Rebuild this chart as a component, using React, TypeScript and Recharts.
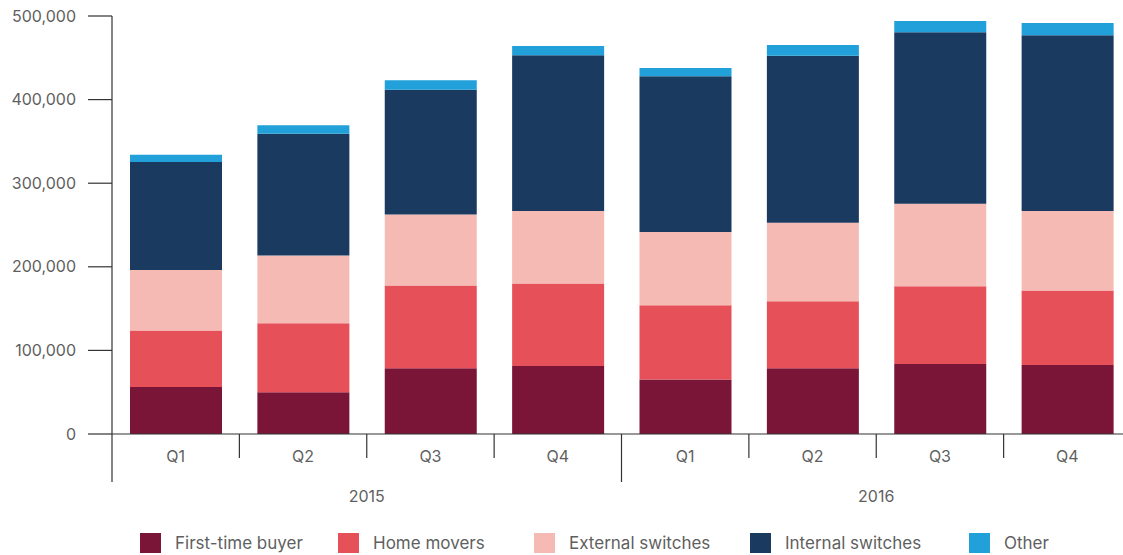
import React from 'react';
import { BarChart, Bar, XAxis, YAxis, Legend } from 'recharts';

const quarters = ['Q1', 'Q2', 'Q3', 'Q4', 'Q1', 'Q2', 'Q3', 'Q4'];
const years = ['2015', '2015', '2015', '2015', '2016', '2016', '2016', '2016'];
const firstTimeBuyer = [56300, 49900, 78700, 81400, 65100, 78700, 83800, 82600];
const homeMovers = [67500, 82600, 98900, 98600, 89000, 80200, 93000, 89100];
const externalSwitches = [72500, 81100, 85000, 86600, 87400, 93700, 98600, 94900];
const internalSwitches = [129000, 145600, 149200, 186400, 186400, 199900, 205100, 210400];
const other = [8700, 10000, 11300, 11100, 9900, 12800, 13600, 14700];
const yTicks = [0, 100000, 200000, 300000, 400000, 500000];

const seriesNames = ['First-time buyer', 'Home movers', 'External switches', 'Internal switches', 'Other'];
const seriesKeys = ['ftb', 'hm', 'ext', 'int', 'oth'];
const seriesColors = ['#7B1538', '#E65058', '#F5BAB4', '#1A3A60', '#21A0DA'];

const data = quarters.map((q, i) => ({
  key: `${years[i]} ${q}`,
  quarter: q,
  year: years[i],
  ftb: firstTimeBuyer[i],
  hm: homeMovers[i],
  ext: externalSwitches[i],
  int: internalSwitches[i],
  oth: other[i],
}));

const FONT = 'Inter, "DejaVu Sans", sans-serif';
const TEXT = '#5f5f5f';
const legendOffsets = [0, 198, 394, 610, 829];

const QuarterTick = (props: any) => {
  const { x, y, payload, index } = props;
  const half = payload && typeof payload.offset === 'number' && payload.offset > 0 ? payload.offset : 63.65;
  const left = x - half;
  const isYearStart = index % 4 === 0;
  const showYear = index % 4 === 1;
  return (
    <g>
      <line x1={left} x2={left} y1={y} y2={y + (isYearStart ? 48 : 24)} stroke="#333" strokeWidth={1.2} />
      <text x={x} y={y + 22} dy="0.35em" textAnchor="middle" fill={TEXT} fontSize={16} fontFamily={FONT}>
        {data[index] ? data[index].quarter : ''}
      </text>
      {showYear && (
        <text x={x + half} y={y + 62} dy="0.35em" textAnchor="middle" fill={TEXT} fontSize={16} fontFamily={FONT}>
          {data[index].year}
        </text>
      )}
    </g>
  );
};

const LegendContent = () => (
  <div style={{ position: 'relative', height: 20, fontFamily: FONT, fontSize: 17, color: TEXT }}>
    {seriesNames.map((n, i) => (
      <div key={n} style={{ position: 'absolute', left: legendOffsets[i], top: 0, display: 'flex', alignItems: 'center', whiteSpace: 'nowrap' }}>
        <div style={{ width: 21, height: 20, background: seriesColors[i], marginRight: 14 }} />
        <span>{n}</span>
      </div>
    ))}
  </div>
);

export default function App() {
  return (
    <div style={{ position: 'absolute', left: 0, top: 0, width: 1123, height: 555, overflow: 'hidden', background: '#fff' }}>
      <BarChart
        width={1140}
        height={555}
        data={data}
        margin={{ top: 16, right: 9, left: 0, bottom: 31 }}
        barSize={92}
      >
        <XAxis
          dataKey="key"
          height={90}
          interval={0}
          tickSize={0}
          tickMargin={0}
          tickLine={false}
          axisLine={{ stroke: '#333', strokeWidth: 1.2 }}
          tick={<QuarterTick />}
        />
        <YAxis
          width={112}
          domain={[0, 500000]}
          ticks={yTicks}
          interval={0}
          tickSize={24}
          tickMargin={12}
          axisLine={{ stroke: '#333', strokeWidth: 1.2 }}
          tickLine={{ stroke: '#333', strokeWidth: 1.2 }}
          tick={{ fill: TEXT, fontSize: 16, fontFamily: FONT }}
          tickFormatter={(v: number) => v.toLocaleString('en-US')}
        />
        <Legend
          layout="horizontal"
          verticalAlign="middle"
          align="center"
          content={<LegendContent />}
          wrapperStyle={{ position: 'absolute', left: 140, top: 533, width: 1000, height: 20 }}
        />
        {seriesKeys.map((k, i) => (
          <Bar key={k} dataKey={k} name={seriesNames[i]} stackId="a" fill={seriesColors[i]} isAnimationActive={false} />
        ))}
      </BarChart>
    </div>
  );
}
